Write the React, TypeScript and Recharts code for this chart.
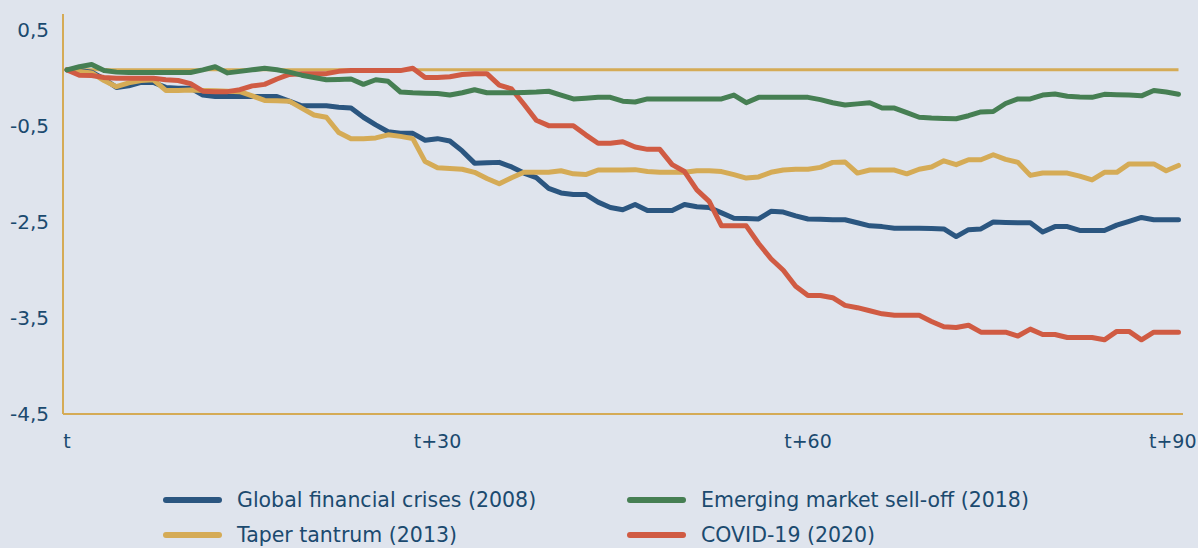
import React from 'react';
import { LineChart, Line, XAxis, YAxis, ReferenceLine } from 'recharts';

const days = Array.from({ length: 91 }, (_, i) => i);

const gfc2008 = [
  0, -0.01, -0.03, -0.12, -0.23, -0.21, -0.165, -0.165, -0.23, -0.24, -0.24, -0.33, -0.35, -0.35, -0.35, -0.35, -0.35, -0.35, -0.41, -0.47, -0.47, -0.47,
  -0.49, -0.5, -0.62, -0.72, -0.81, -0.83, -0.83, -0.92, -0.9, -0.93, -1.06, -1.22, -1.215, -1.21, -1.27, -1.35, -1.41, -1.55, -1.61, -1.63, -1.63, -1.73, -1.8,
  -1.83, -1.76, -1.84, -1.84, -1.84, -1.76, -1.79, -1.8, -1.87, -1.94, -1.945, -1.95, -1.85, -1.86, -1.91, -1.95, -1.955, -1.96, -1.96, -2.0, -2.04, -2.05, -2.07, -2.07,
  -2.07, -2.075, -2.08, -2.18, -2.09, -2.08, -1.99, -1.995, -2.0, -2.0, -2.12, -2.05, -2.05, -2.1, -2.1, -2.1, -2.03, -1.98, -1.93, -1.96, -1.96, -1.96,
];

const taper2013 = [
  0, -0.02, -0.04, -0.14, -0.22, -0.17, -0.14, -0.13, -0.27, -0.27, -0.265, -0.27, -0.275, -0.28, -0.285, -0.34, -0.4, -0.405, -0.41, -0.5, -0.59, -0.62,
  -0.82, -0.9, -0.9, -0.89, -0.85, -0.87, -0.9, -1.2, -1.28, -1.29, -1.3, -1.34, -1.42, -1.49, -1.41, -1.34, -1.34, -1.34, -1.32, -1.36, -1.37, -1.31, -1.31,
  -1.31, -1.305, -1.33, -1.34, -1.34, -1.34, -1.32, -1.32, -1.33, -1.37, -1.415, -1.4, -1.34, -1.31, -1.3, -1.3, -1.275, -1.21, -1.205, -1.35, -1.31, -1.31, -1.31, -1.36,
  -1.3, -1.27, -1.19, -1.24, -1.175, -1.175, -1.11, -1.17, -1.21, -1.38, -1.35, -1.35, -1.35, -1.39, -1.44, -1.34, -1.34, -1.23, -1.23, -1.23, -1.32, -1.25,
];

const em2018 = [
  0, 0.04, 0.07, -0.01, -0.03, -0.035, -0.035, -0.035, -0.035, -0.035, -0.035, 0.0, 0.04, -0.04, -0.02, 0.0, 0.02, 0.0, -0.03, -0.07, -0.1, -0.13,
  -0.125, -0.12, -0.19, -0.13, -0.15, -0.29, -0.3, -0.305, -0.31, -0.33, -0.3, -0.26, -0.3, -0.3, -0.3, -0.295, -0.29, -0.28, -0.33, -0.38, -0.37, -0.36, -0.36,
  -0.41, -0.42, -0.38, -0.38, -0.38, -0.38, -0.38, -0.38, -0.38, -0.33, -0.43, -0.36, -0.36, -0.36, -0.36, -0.36, -0.39, -0.43, -0.46, -0.445, -0.43, -0.5, -0.5, -0.56,
  -0.62, -0.63, -0.635, -0.64, -0.6, -0.55, -0.545, -0.44, -0.38, -0.38, -0.33, -0.315, -0.345, -0.355, -0.36, -0.32, -0.325, -0.33, -0.34, -0.27, -0.29, -0.32,
];

const covid2020 = [
  0, -0.07, -0.075, -0.1, -0.11, -0.11, -0.11, -0.11, -0.13, -0.14, -0.18, -0.28, -0.285, -0.285, -0.26, -0.21, -0.19, -0.12, -0.06, -0.05, -0.05, -0.05,
  -0.02, -0.01, -0.01, -0.01, -0.01, -0.01, 0.02, -0.1, -0.1, -0.09, -0.06, -0.05, -0.05, -0.2, -0.25, -0.45, -0.66, -0.73, -0.73, -0.73, -0.85, -0.96, -0.96,
  -0.94, -1.01, -1.04, -1.04, -1.24, -1.33, -1.57, -1.72, -2.04, -2.04, -2.04, -2.27, -2.47, -2.62, -2.83, -2.95, -2.95, -2.98, -3.08, -3.11, -3.15, -3.19, -3.21, -3.21,
  -3.21, -3.29, -3.36, -3.37, -3.34, -3.43, -3.43, -3.43, -3.48, -3.39, -3.46, -3.46, -3.5, -3.5, -3.5, -3.53, -3.42, -3.42, -3.53, -3.43, -3.43, -3.43,
];

const xTicks = [0, 30, 60, 90];
const xTickLabels = ['t', 't+30', 't+60', 't+90'];
const yTicks = [0.52, -0.73, -1.99, -3.24, -4.5];
const yTickLabels = ['0,5', '-0,5', '-2,5', '-3,5', '-4,5'];

const series = [
  { key: 'gfc', name: 'Global financial crises (2008)', color: '#2b5680' },
  { key: 'em', name: 'Emerging market sell-off (2018)', color: '#467f53' },
  { key: 'taper', name: 'Taper tantrum (2013)', color: '#d5ab56' },
  { key: 'covid', name: 'COVID-19 (2020)', color: '#d05b43' },
];

const drawOrder = ['gfc', 'taper', 'covid', 'em'];

const data = days.map((d, i) => ({
  day: d,
  gfc: gfc2008[i],
  taper: taper2013[i],
  em: em2018[i],
  covid: covid2020[i],
}));

const BG = '#dfe4ed';
const TEXT = '#1b4a6f';
const GOLD = '#d5ab56';
const FONT = '"DejaVu Sans", sans-serif';

const XTick = (props: any) => {
  const { x, y, payload } = props;
  const idx = xTicks.indexOf(payload.value);
  const last = idx === xTicks.length - 1;
  return (
    <text
      x={last ? x + 18 : x}
      y={y + 28}
      textAnchor={last ? 'end' : 'middle'}
      fill={TEXT}
      fontSize={19}
      fontFamily={FONT}
    >
      {xTickLabels[idx]}
    </text>
  );
};

export default function App() {
  const legendPos = [
    { left: 163, top: 488 },
    { left: 627, top: 488 },
    { left: 163, top: 523 },
    { left: 627, top: 523 },
  ];
  return (
    <div
      style={{
        position: 'absolute',
        left: 0,
        top: 0,
        width: 1198,
        height: 548,
        background: BG,
        fontFamily: FONT,
        overflow: 'hidden',
      }}
    >
      <LineChart
        width={1198}
        height={548}
        data={data}
        margin={{ top: 14, right: 15, left: 8, bottom: 94 }}
      >
        <XAxis
          dataKey="day"
          type="number"
          domain={[0, 90]}
          ticks={xTicks}
          axisLine={{ stroke: GOLD, strokeWidth: 2 }}
          tickLine={false}
          padding={{ left: 4, right: 4.5 }}
          tick={<XTick />}
          tickMargin={0}
          height={40}
          interval={0}
        />
        <YAxis
          type="number"
          domain={[-4.5, 0.73]}
          ticks={yTicks}
          tickFormatter={(v: number) => yTickLabels[yTicks.indexOf(v)]}
          axisLine={{ stroke: GOLD, strokeWidth: 2 }}
          tickLine={false}
          tick={{ fill: TEXT, fontSize: 20, fontFamily: FONT }}
          tickMargin={8}
          width={55}
          interval={0}
        />
        <ReferenceLine
          segment={[{ x: 0, y: 0 }, { x: 90, y: 0 }]}
          stroke={GOLD}
          strokeWidth={3}
        />
        {drawOrder.map((k) => {
          const s = series.find((x) => x.key === k)!;
          return (
            <Line
              key={k}
              type="linear"
              dataKey={k}
              name={s.name}
              stroke={s.color}
              strokeWidth={5}
              strokeLinecap="round"
              strokeLinejoin="round"
              dot={false}
              activeDot={false}
              isAnimationActive={false}
            />
          );
        })}
      </LineChart>
      {series.map((s, i) => (
        <div
          key={s.key}
          style={{
            position: 'absolute',
            left: legendPos[i].left,
            top: legendPos[i].top,
            display: 'flex',
            alignItems: 'center',
            height: 24,
          }}
        >
          <div
            style={{
              width: 59,
              height: 6,
              borderRadius: 3,
              background: s.color,
              marginRight: 15,
            }}
          />
          <span style={{ color: TEXT, fontSize: 20.5, fontFamily: FONT, whiteSpace: 'nowrap' }}>{s.name}</span>
        </div>
      ))}
    </div>
  );
}
